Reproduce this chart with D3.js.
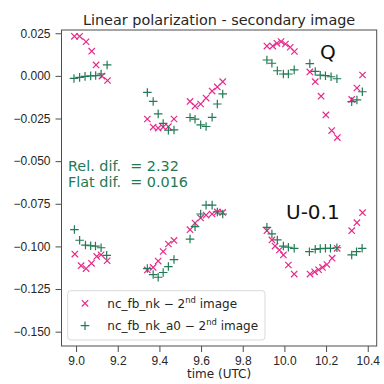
<!DOCTYPE html>
<html>
<head>
<meta charset="utf-8">
<script src="https://cdn.jsdelivr.net/npm/d3@7"></script>
<style>
  body { margin: 0; background: #fff; }
  svg { display: block; font-family: "DejaVu Sans", sans-serif; }
  .axis text { fill: #262626; font-size: 12px; }
  .axis path, .axis line { stroke: #4d4d4d; stroke-width: 1; }
</style>
</head>
<body>
<svg id="chart" width="384" height="384"></svg>
<script>
// Q and U-0.1 for both reductions, [time (UTC), value]
const qNk = [
    [8.992, 0.0232], [9.017, 0.0232], [9.048, 0.0200], [9.075, 0.0145], [9.096, 0.0064], [9.124, -0.0001], [9.151, -0.0027],
    [9.342, -0.0253], [9.370, -0.0300], [9.394, -0.0306], [9.418, -0.0300], [9.443, -0.0298], [9.470, -0.0253],
    [9.547, -0.0150], [9.571, -0.0177], [9.598, -0.0165], [9.624, -0.0130], [9.653, -0.0089], [9.678, -0.0065], [9.704, -0.0034],
    [9.916, 0.0175], [9.944, 0.0175], [9.964, 0.0191], [9.984, 0.0201], [10.005, 0.0187], [10.028, 0.0168], [10.048, 0.0143],
    [10.122, 0.0023], [10.148, -0.0034], [10.176, -0.0119], [10.199, -0.0229], [10.227, -0.0321], [10.254, -0.0362],
    [10.323, -0.0138], [10.348, -0.0071], [10.375, 0.0005]
];
const qNkA0 = [
    [8.990, -0.0015], [9.017, -0.0009], [9.043, -0.0003], [9.070, 0.0000], [9.094, 0.0002], [9.120, 0.0011], [9.149, 0.0064],
    [9.342, -0.0097], [9.370, -0.0150], [9.394, -0.0223], [9.418, -0.0279], [9.443, -0.0319], [9.470, -0.0317],
    [9.547, -0.0244], [9.571, -0.0254], [9.598, -0.0287], [9.624, -0.0297], [9.653, -0.0243], [9.678, -0.0165], [9.704, -0.0106],
    [9.916, 0.0093], [9.940, 0.0074], [9.966, 0.0030], [9.995, 0.0011], [10.019, 0.0011], [10.047, 0.0035],
    [10.122, 0.0072], [10.148, 0.0026], [10.172, 0.0004], [10.197, 0.0001], [10.224, -0.0005], [10.252, -0.0017],
    [10.323, -0.0151], [10.348, -0.0141], [10.374, -0.0093]
];
const uNk = [
    [8.994, -0.1045], [9.024, -0.1113], [9.048, -0.1130], [9.074, -0.1099], [9.099, -0.1059], [9.120, -0.1049], [9.149, -0.1084],
    [9.342, -0.1138], [9.370, -0.1123], [9.394, -0.1086], [9.418, -0.1030], [9.443, -0.0986], [9.470, -0.0965],
    [9.547, -0.0902], [9.571, -0.0863], [9.598, -0.0833], [9.624, -0.0816], [9.653, -0.0810], [9.678, -0.0798], [9.704, -0.0801],
    [9.916, -0.0908], [9.940, -0.0962], [9.955, -0.0998], [9.976, -0.1021], [9.995, -0.1050], [10.019, -0.1109], [10.047, -0.1162],
    [10.123, -0.1162], [10.145, -0.1149], [10.164, -0.1137], [10.183, -0.1123], [10.204, -0.1106], [10.229, -0.1069], [10.253, -0.1011],
    [10.323, -0.0908], [10.348, -0.0861], [10.375, -0.0802]
];
const uNkA0 = [
    [8.992, -0.0901], [9.017, -0.0964], [9.045, -0.0992], [9.070, -0.0996], [9.093, -0.0998], [9.120, -0.1008], [9.147, -0.1052],
    [9.342, -0.1130], [9.370, -0.1165], [9.394, -0.1181], [9.418, -0.1153], [9.443, -0.1118], [9.470, -0.1077],
    [9.547, -0.0957], [9.571, -0.0884], [9.598, -0.0810], [9.624, -0.0758], [9.653, -0.0758], [9.678, -0.0798], [9.704, -0.0810],
    [9.916, -0.0888], [9.940, -0.0927], [9.966, -0.0962], [9.995, -0.0998], [10.019, -0.1005], [10.047, -0.1011],
    [10.120, -0.1031], [10.148, -0.1017], [10.172, -0.1013], [10.197, -0.1011], [10.221, -0.1011], [10.252, -0.1008],
    [10.323, -0.1050], [10.346, -0.1031], [10.373, -0.1011]
];

const xTicks = [9.0, 9.2, 9.4, 9.6, 9.8, 10.0, 10.2, 10.4];
const yTicks = [0.025, 0.0, -0.025, -0.05, -0.075, -0.1, -0.125, -0.15];
const legendLabels = ['nc_fb_nk', 'nc_fb_nk_a0'];
const statLines = ['Rel. dif.  = 2.32', 'Flat dif.  = 0.016'];

const colNk = '#e7298a';
const colA0 = '#237a55';

const svg = d3.select('#chart');
const margin = { left: 61.5, right: 7.3, top: 30, bottom: 38 };
const W = 384, H = 384;

const x = d3.scaleLinear()
    .domain([8.93, 10.443])
    .range([margin.left, W - margin.right]);

const y = d3.scaleLinear()
    .domain([-0.1584, 0.0269])
    .range([H - margin.bottom, margin.top]);

const fmtY = v => d3.format('.3f')(v).replace('-', '\u2212');

// Axes
svg.append('g')
    .attr('class', 'axis')
    .attr('transform', `translate(0,${H - margin.bottom})`)
    .call(d3.axisBottom(x).tickValues(xTicks).tickFormat(d3.format('.1f')).tickSize(6).tickPadding(4))
    .call(g => g.select('.domain').remove());

svg.append('g')
    .attr('class', 'axis')
    .attr('transform', `translate(${margin.left},0)`)
    .call(d3.axisLeft(y).tickValues(yTicks).tickFormat(fmtY).tickSize(6).tickPadding(5))
    .call(g => g.select('.domain').remove());

// Frame
svg.append('rect')
    .attr('x', margin.left)
    .attr('y', margin.top)
    .attr('width', W - margin.left - margin.right)
    .attr('height', H - margin.top - margin.bottom)
    .attr('fill', 'none')
    .attr('stroke', '#4d4d4d')
    .attr('stroke-width', 1);

// Markers
const timesSym = d3.symbol().type(d3.symbolTimes).size(28);
const plusSym = d3.symbol().type(d3.symbolPlus).size(26);

function drawSeries(data, sym, color) {
    svg.append('g')
        .selectAll('path')
        .data(data)
        .join('path')
        .attr('d', sym)
        .attr('transform', d => `translate(${x(d[0])},${y(d[1])})`)
        .attr('fill', 'none')
        .attr('stroke', color)
        .attr('stroke-width', 1.2);
}

drawSeries(qNk, timesSym, colNk);
drawSeries(uNk, timesSym, colNk);
drawSeries(qNkA0, plusSym, colA0);
drawSeries(uNkA0, plusSym, colA0);

// Title and labels
svg.append('text')
    .attr('x', (margin.left + W - margin.right) / 2)
    .attr('y', 25)
    .attr('text-anchor', 'middle')
    .attr('font-size', '14.4px')
    .attr('fill', '#262626')
    .text('Linear polarization - secondary image');

svg.append('text')
    .attr('x', (margin.left + W - margin.right) / 2)
    .attr('y', 378)
    .attr('text-anchor', 'middle')
    .attr('font-size', '12px')
    .attr('fill', '#262626')
    .text('time (UTC)');

svg.append('text')
    .attr('x', 320)
    .attr('y', 59)
    .attr('font-size', '20px')
    .attr('fill', '#111')
    .text('Q');

svg.append('text')
    .attr('x', 286)
    .attr('y', 219)
    .attr('font-size', '20px')
    .attr('fill', '#111')
    .text('U-0.1');

svg.selectAll('.stat')
    .data(statLines)
    .join('text')
    .attr('class', 'stat')
    .attr('x', 68)
    .attr('y', (d, i) => 171 + i * 16)
    .attr('font-size', '14.4px')
    .attr('fill', colA0)
    .style('white-space', 'pre')
    .text(d => d);

// Legend
const lg = svg.append('g').attr('transform', 'translate(67.7,290.7)');
lg.append('rect')
    .attr('width', 197.3)
    .attr('height', 49.3)
    .attr('rx', 3)
    .attr('fill', '#fff')
    .attr('fill-opacity', 0.8)
    .attr('stroke', '#d9d9d9');

const legendItems = [
    { label: legendLabels[0], sym: timesSym, color: colNk },
    { label: legendLabels[1], sym: plusSym, color: colA0 }
];

legendItems.forEach((it, i) => {
    const cy = 12.6 + i * 22.4;
    lg.append('path')
        .attr('d', it.sym)
        .attr('transform', `translate(17.3,${cy})`)
        .attr('fill', 'none')
        .attr('stroke', it.color)
        .attr('stroke-width', 1.2);
    const t = lg.append('text')
        .attr('x', 39.6)
        .attr('y', cy + 4.3)
        .attr('font-size', '12px')
        .attr('fill', '#262626')
        .style('white-space', 'pre');
    t.append('tspan').text(`${it.label} \u2212 2`);
    t.append('tspan').attr('dy', -4.5).attr('font-size', '8.4px').text('nd');
    t.append('tspan').attr('dy', 4.5).text(' image');
});
</script>
</body>
</html>
